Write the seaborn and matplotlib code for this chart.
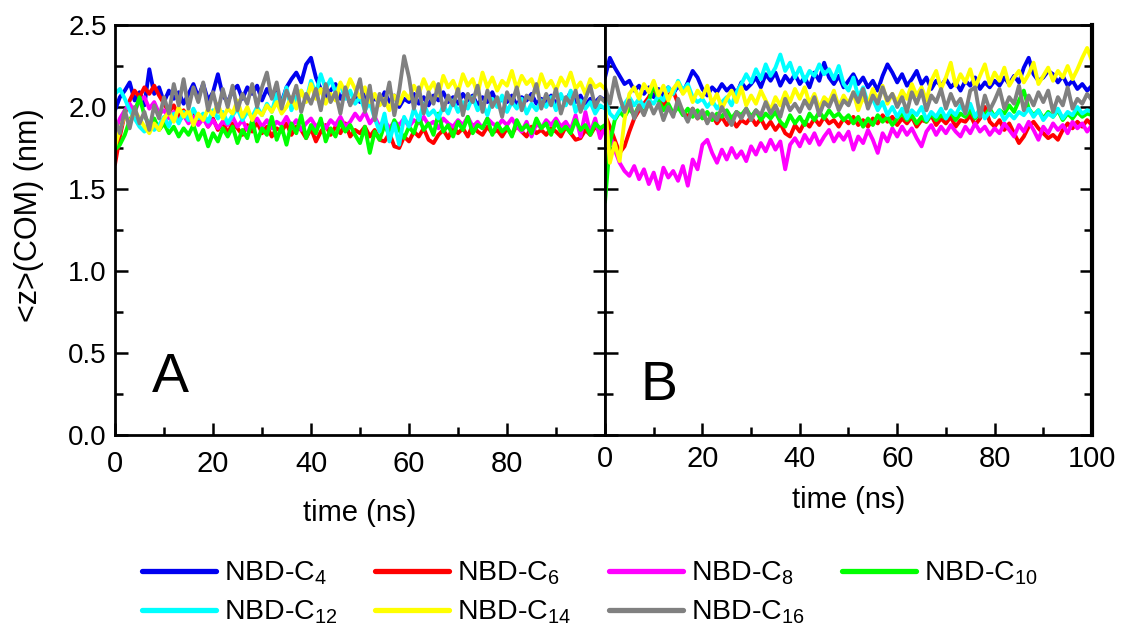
import numpy as np
import pandas as pd
import matplotlib
matplotlib.use("Agg")
import matplotlib.pyplot as plt
from matplotlib.lines import Line2D
from matplotlib.ticker import MultipleLocator, FixedLocator
import seaborn as sns

# ---------------- data ----------------
time_ns = list(range(0, 101))

series_names = ["NBD-C4", "NBD-C6", "NBD-C8", "NBD-C10", "NBD-C12", "NBD-C14", "NBD-C16"]
legend_labels = ["NBD-C$_{4}$", "NBD-C$_{6}$", "NBD-C$_{8}$", "NBD-C$_{10}$",
                 "NBD-C$_{12}$", "NBD-C$_{14}$", "NBD-C$_{16}$"]
series_colors = ["#0000f0", "#ff0000", "#ff00ff", "#00ff00", "#00ffff", "#ffff00", "#808080"]

# Panel A
A_C4 = [1.98, 2.06, 2.10, 2.15, 2.04, 2.09, 2.01, 2.23, 2.08, 2.12,
        2.03, 2.10, 2.05, 2.09, 2.02, 2.08, 2.14, 2.06, 2.14, 2.04,
        2.09, 2.20, 2.07, 2.03, 2.10, 2.13, 2.05, 2.12, 2.08, 2.13,
        2.04, 2.11, 2.06, 2.09, 2.03, 2.12, 2.17, 2.21, 2.15, 2.26,
        2.30, 2.18, 2.11, 2.06, 2.10, 2.14, 2.05, 2.09, 2.02, 2.07,
        2.03, 2.08, 2.01, 2.06, 2.02, 2.09, 2.03, 2.07, 2.00, 2.05,
        2.03, 2.08, 2.02, 2.06, 2.01, 2.07, 2.04, 2.09, 2.03, 2.06,
        2.02, 2.08, 2.04, 2.07, 2.01, 2.06, 2.03, 2.09, 2.02, 2.05,
        2.03, 2.07, 2.01, 2.06, 2.04, 2.08, 2.02, 2.05, 2.03, 2.07,
        2.02, 2.06, 2.04, 2.09, 2.03, 2.07, 2.01, 2.05, 2.03, 2.06,
        2.04]
A_C6 = [1.65, 1.82, 1.96, 2.04, 2.10, 2.06, 2.12, 2.08, 2.13, 2.07,
        2.02, 1.97, 2.01, 1.94, 1.98, 1.92, 1.96, 1.90, 1.94, 1.88,
        1.93, 1.86, 1.91, 1.84, 1.90, 1.87, 1.83, 1.89, 1.85, 1.91,
        1.84, 1.88, 1.82, 1.87, 1.85, 1.90, 1.83, 1.88, 1.86, 1.81,
        1.87, 1.79, 1.85, 1.89, 1.83, 1.88, 1.84, 1.90, 1.82, 1.86,
        1.84, 1.88, 1.82, 1.86, 1.80, 1.79, 1.84, 1.76, 1.75, 1.82,
        1.79, 1.85, 1.82, 1.87, 1.80, 1.78, 1.83, 1.86, 1.81, 1.88,
        1.84, 1.87, 1.82, 1.89, 1.85, 1.83, 1.88, 1.84, 1.86, 1.82,
        1.87, 1.83, 1.89, 1.85, 1.82, 1.88, 1.84, 1.86, 1.83, 1.87,
        1.85, 1.82, 1.88, 1.84, 1.80, 1.81, 1.86, 1.83, 1.88, 1.85,
        1.87]
A_C8 = [1.85, 1.93, 1.98, 2.02, 1.97, 2.04, 2.06, 1.99, 2.03, 1.96,
        1.98, 1.93, 1.97, 1.91, 1.95, 1.90, 1.94, 1.89, 1.93, 1.88,
        1.92, 1.87, 1.91, 1.89, 1.94, 1.88, 1.92, 1.86, 1.90, 1.93,
        1.88, 1.92, 1.87, 1.91, 1.89, 1.94, 1.88, 1.92, 1.86, 1.90,
        1.93, 1.88, 1.91, 1.87, 1.92, 1.89, 1.94, 1.88, 1.91, 1.96,
        1.92, 1.97, 1.90, 1.94, 1.88, 1.92, 1.87, 1.91, 1.89, 1.93,
        1.88, 1.92, 1.90, 1.94, 1.89, 1.91, 1.87, 1.93, 1.90, 1.88,
        1.92, 1.89, 1.94, 1.88, 1.91, 1.87, 1.93, 1.90, 1.88, 1.92,
        1.89, 1.93, 1.88, 1.85, 1.91, 1.82, 1.90, 1.87, 1.92, 1.89,
        1.93, 1.88, 1.91, 1.86, 1.95, 1.82, 1.97, 1.84, 1.93, 1.81,
        1.88]
A_C10 = [1.74, 1.77, 1.83, 1.92, 1.97, 2.06, 1.95, 1.89, 1.93, 1.86,
         1.90, 1.84, 1.88, 1.82, 1.87, 1.83, 1.89, 1.80, 1.86, 1.76,
         1.84, 1.79, 1.87, 1.82, 1.88, 1.78, 1.86, 1.81, 1.92, 1.79,
         1.87, 1.83, 1.94, 1.80, 1.88, 1.77, 1.90, 1.84, 1.95, 1.81,
         1.89, 1.84, 1.93, 1.79, 1.87, 1.82, 1.91, 1.85, 1.89, 1.83,
         1.78, 1.88, 1.72, 1.85, 1.80, 1.89, 1.83, 1.92, 1.86, 1.81,
         1.88, 1.84, 1.94, 1.86, 1.90, 1.83, 1.96, 1.85, 1.89, 1.82,
         1.91, 1.86, 1.94, 1.84, 1.89, 1.87, 1.93, 1.83, 1.90, 1.85,
         1.88, 1.82, 1.92, 1.86, 1.89, 1.84, 1.93, 1.87, 1.90, 1.83,
         1.91, 1.85, 1.88, 1.84, 1.92, 1.86, 1.89, 1.83, 1.90, 1.87,
         1.89]
A_C12 = [2.08, 2.11, 2.05, 1.98, 1.93, 1.88, 1.85, 1.91, 1.86, 1.89,
         1.94, 1.88, 1.96, 1.90, 1.97, 1.92, 1.99, 1.93, 1.96, 1.91,
         1.98, 1.93, 1.97, 1.90, 1.95, 1.99, 1.92, 1.97, 1.94, 2.00,
         1.95, 2.02, 1.97, 2.08, 2.01, 2.12, 1.98, 2.06, 2.10, 2.04,
         2.16, 2.08, 2.20, 2.11, 2.17, 2.09, 2.14, 2.05, 2.10, 2.02,
         2.06, 1.98, 2.03, 1.93, 1.85, 1.96, 1.79, 1.90, 1.77, 1.94,
         1.88, 1.99, 1.92, 2.02, 1.95, 1.98, 1.93, 2.01, 1.96, 2.04,
         1.97, 2.03, 1.99, 2.06, 1.98, 2.02, 1.95, 2.05, 2.00, 2.07,
         1.97, 2.03, 1.99, 2.05, 1.96, 2.02, 1.98, 2.04, 2.00, 2.06,
         1.98, 2.08, 2.01, 2.10, 1.97, 2.04, 1.99, 2.03, 1.96, 2.01,
         1.99]
A_C14 = [1.76, 1.86, 1.95, 1.90, 1.98, 1.93, 1.88, 1.84, 1.90, 1.86,
         1.93, 1.97, 1.91, 2.00, 1.94, 1.98, 1.89, 1.96, 1.92, 1.99,
         1.95, 2.02, 1.93, 1.99, 1.96, 2.04, 1.94, 2.00, 1.92, 1.98,
         1.95, 2.01, 1.97, 2.03, 1.96, 2.00, 2.06, 1.99, 2.10, 2.03,
         2.14, 2.05, 2.11, 2.02, 2.08, 2.04, 2.15, 2.09, 2.17, 2.11,
         2.06, 2.12, 2.03, 2.08, 2.01, 2.05, 1.98, 2.07, 2.02, 2.09,
         2.05, 2.13, 2.08, 2.17, 2.10, 2.15, 2.07, 2.19, 2.12, 2.16,
         2.09, 2.20, 2.13, 2.17, 2.08, 2.21, 2.12, 2.18, 2.10, 2.16,
         2.13, 2.22, 2.11, 2.19, 2.14, 2.17, 2.09, 2.20, 2.12, 2.16,
         2.10, 2.18, 2.13, 2.21, 2.11, 2.15, 2.08, 2.17, 2.12, 2.14,
         2.11]
A_C16 = [1.92, 1.84, 1.98, 1.87, 2.00, 1.90, 1.97, 1.86, 2.01, 1.93,
         2.06, 1.96, 2.14, 2.01, 2.17, 1.99, 2.12, 2.03, 2.15, 1.98,
         2.09, 1.97, 2.11, 2.00, 2.13, 1.98, 2.08, 2.02, 2.14, 2.00,
         2.12, 2.21, 2.05, 2.15, 1.99, 2.10, 2.03, 2.13, 1.97, 2.08,
         2.02, 2.11, 1.98, 2.14, 2.03, 2.09, 1.96, 2.12, 2.01, 2.07,
         2.17, 1.97, 2.13, 1.92, 2.08, 2.01, 2.15, 1.95, 2.10, 2.31,
         2.18, 1.99, 2.12, 1.96, 2.09, 2.02, 2.14, 1.98, 2.07, 2.01,
         2.11, 1.95, 2.08, 2.03, 2.13, 1.97, 2.10, 2.00, 2.06, 1.94,
         2.09, 2.02, 2.12, 1.98, 2.07, 2.04, 2.14, 1.99, 2.08, 2.01,
         2.11, 1.96, 2.06, 2.02, 2.10, 1.97, 2.05, 2.13, 2.00, 2.06,
         2.03]

# Panel B
B_C4 = [2.18, 2.30, 2.24, 2.19, 2.14, 2.16, 2.10, 2.13, 2.08, 2.12,
        2.06, 2.11, 2.07, 2.12, 2.08, 2.13, 2.09, 2.15, 2.22, 2.18,
        2.11, 2.07, 2.12, 2.09, 2.14, 2.10, 2.13, 2.08, 2.15, 2.11,
        2.14, 2.18, 2.12, 2.20, 2.16, 2.21, 2.13, 2.19, 2.15, 2.20,
        2.14, 2.18, 2.12, 2.21, 2.16, 2.27, 2.18, 2.14, 2.19, 2.12,
        2.16, 2.20, 2.14, 2.18, 2.12, 2.16, 2.10, 2.19, 2.26, 2.21,
        2.15, 2.20, 2.13, 2.17, 2.22, 2.14, 2.18, 2.11, 2.16, 2.13,
        2.17, 2.12, 2.15, 2.10, 2.16, 2.13, 2.18, 2.11, 2.15, 2.12,
        2.16, 2.13, 2.18, 2.14, 2.19, 2.15, 2.24, 2.30, 2.20, 2.16,
        2.18, 2.22, 2.20, 2.15, 2.19, 2.13, 2.16, 2.11, 2.14, 2.10,
        2.13]
B_C6 = [1.95, 1.88, 1.80, 1.72, 1.76, 1.85, 1.93, 1.98, 2.02, 2.06,
        2.12, 2.05, 2.00, 2.07, 2.10, 2.02, 1.97, 1.94, 1.99, 1.93,
        1.96, 1.91, 1.95, 1.90, 1.94, 1.89, 1.93, 1.88, 1.92, 1.90,
        1.94, 1.89, 1.93, 1.87, 1.91, 1.86, 1.90, 1.84, 1.82, 1.89,
        1.85, 1.91, 1.88, 1.93, 1.89, 1.94, 1.90, 1.92, 1.88, 1.93,
        1.90, 1.94, 1.89, 1.92, 1.88, 1.93, 1.90, 1.95, 1.91, 1.94,
        1.89, 1.93, 1.90, 1.94, 1.88, 1.92, 1.91, 1.95, 1.89, 1.93,
        1.90, 1.94, 1.88, 1.92, 1.91, 1.95, 1.89, 1.93, 2.00, 1.91,
        1.88, 1.92, 1.86, 1.90, 1.84, 1.78, 1.82, 1.88, 1.91, 1.87,
        1.84, 1.81, 1.83, 1.80, 1.86, 1.90, 1.87, 1.91, 1.88, 1.92,
        1.89]
B_C8 = [1.88, 1.83, 1.74, 1.66, 1.61, 1.58, 1.64, 1.56, 1.62, 1.53,
        1.60, 1.50, 1.63, 1.57, 1.61, 1.55, 1.64, 1.52, 1.68, 1.62,
        1.77, 1.80, 1.72, 1.66, 1.74, 1.68, 1.75, 1.69, 1.73, 1.67,
        1.76, 1.71, 1.78, 1.73, 1.80, 1.74, 1.79, 1.62, 1.77, 1.81,
        1.76, 1.83, 1.78, 1.84, 1.77, 1.82, 1.86, 1.79, 1.84, 1.80,
        1.85, 1.74, 1.82, 1.78, 1.86, 1.80, 1.72, 1.84, 1.79, 1.87,
        1.82, 1.88, 1.83, 1.87, 1.81, 1.76, 1.85, 1.89, 1.83, 1.88,
        1.84, 1.89, 1.85, 1.82, 1.88, 1.84, 1.90, 1.85, 1.88, 1.83,
        1.87, 1.84, 1.90, 1.86, 1.82, 1.89, 1.85, 1.91, 1.86, 1.80,
        1.88, 1.84, 1.90, 1.86, 1.89, 1.84, 1.91, 1.87, 1.90, 1.85,
        1.89]
B_C10 = [1.42, 1.78, 1.92, 1.97, 1.94, 1.99, 1.95, 2.01, 1.96, 2.03,
         2.15, 2.04, 1.98, 2.02, 1.96, 2.00, 1.95, 1.99, 1.94, 1.98,
         1.93, 1.97, 1.92, 1.96, 1.94, 1.98, 1.93, 1.97, 1.95, 1.99,
         1.94, 1.98, 1.92, 1.96, 1.93, 1.97, 1.91, 1.88, 1.95, 1.90,
         1.94, 1.89, 1.96, 1.92, 1.97, 1.93, 1.98, 1.94, 1.96, 1.92,
         1.95, 1.90, 1.94, 1.88, 1.93, 1.89, 1.95, 1.91, 1.94, 1.89,
         1.93, 1.96, 1.92, 1.95, 1.90, 1.94, 1.91, 1.96, 1.92, 1.95,
         1.93, 1.97, 1.92, 1.96, 1.94, 1.98, 1.93, 1.97, 1.95, 1.99,
         1.94, 1.98, 1.96, 2.01, 1.97, 2.04, 2.10, 1.99, 1.95, 1.98,
         1.93, 1.97, 1.94, 1.98, 1.92, 1.96, 1.93, 1.97, 1.94, 1.96,
         1.95]
B_C12 = [2.05, 1.96, 1.93, 1.98, 2.02, 2.06, 2.01, 2.05, 2.00, 2.04,
         2.02, 2.07, 2.04, 2.12, 2.08, 2.16, 2.10, 2.14, 2.06, 2.03,
         2.05, 2.00, 2.04, 1.99, 2.03, 2.06, 2.01, 2.09, 2.14, 2.20,
         2.15, 2.23, 2.17, 2.26, 2.19, 2.24, 2.32, 2.22, 2.27, 2.18,
         2.24, 2.16, 2.22, 2.19, 2.26, 2.20, 2.23, 2.17, 2.25, 2.14,
         2.10, 2.18, 2.06, 2.12, 2.02, 2.05, 1.98, 2.03, 1.95, 2.00,
         1.94, 1.99, 1.93, 1.98, 1.95, 2.00, 1.92, 1.97, 1.94, 1.99,
         1.93, 1.98, 1.95, 2.01, 1.96, 2.02, 1.94, 1.99, 1.93, 1.97,
         1.94, 1.98, 1.92, 1.96, 1.93, 1.97, 1.95, 1.99, 1.94, 1.98,
         1.92, 1.96, 1.94, 1.99, 1.93, 1.97, 1.95, 2.00, 1.96, 1.98,
         1.97]
B_C14 = [2.02, 1.66, 1.78, 1.67, 1.92, 2.08, 2.12, 2.05, 2.14, 2.09,
         2.16, 2.07, 2.13, 2.04, 2.11, 2.15, 2.08, 2.12, 2.03, 2.10,
         2.06, 2.13, 2.02, 2.08, 1.99, 2.05, 2.10, 2.03, 2.12, 2.01,
         2.07, 2.02, 2.10, 2.04, 1.98, 2.06, 2.01, 2.09, 2.03, 2.11,
         2.05, 2.12, 2.02, 2.08, 1.99, 2.06, 2.03, 2.10, 2.00, 2.07,
         2.02, 2.09, 1.98, 2.06, 2.01, 2.11, 2.04, 2.13, 2.02, 2.08,
         2.03, 2.10, 2.05, 2.14, 2.07, 2.12, 2.04, 2.16, 2.22, 2.11,
         2.18, 2.27, 2.13, 2.20, 2.15, 2.23, 2.12, 2.19, 2.26, 2.14,
         2.21, 2.16, 2.24, 2.13, 2.18, 2.22, 2.15, 2.20, 2.27, 2.14,
         2.19, 2.24, 2.16, 2.22, 2.18, 2.25, 2.17, 2.23, 2.30, 2.36,
         2.28]
B_C16 = [2.12, 2.02, 2.18, 2.06, 1.97, 2.04, 1.93, 2.01, 1.95, 2.03,
         1.96, 2.02, 1.92, 2.00, 1.94, 2.05, 1.97, 1.91, 1.99, 1.93,
         1.98, 1.90, 1.96, 1.92, 2.00, 1.94, 1.89, 1.97, 1.93, 1.99,
         1.92, 1.98, 1.95, 2.03, 1.96, 2.01, 1.94, 2.05, 1.98, 2.02,
         1.97, 2.04, 1.99, 2.06, 1.95, 2.03, 2.00, 2.07, 1.98, 2.04,
         2.01, 2.09, 2.03, 2.11, 1.99, 2.07, 2.02, 2.12, 2.04, 2.08,
         2.00, 2.06, 1.97, 2.09, 2.02, 2.10, 1.98, 2.07, 2.03, 2.11,
         1.99, 2.08, 2.01, 2.05, 1.96, 2.10, 2.12, 1.94, 2.07, 1.98,
         2.04, 2.11, 1.99, 2.06, 2.02, 2.13, 1.98, 2.07, 2.01, 2.09,
         2.03, 2.10, 1.97, 2.06, 2.01, 2.12, 1.99, 2.05, 2.02, 2.08,
         2.04]

panel_A = [A_C4, A_C6, A_C8, A_C10, A_C12, A_C14, A_C16]
panel_B = [B_C4, B_C6, B_C8, B_C10, B_C12, B_C14, B_C16]

x_ticks_A = [0, 20, 40, 60, 80]
x_ticks_B = [0, 20, 40, 60, 80, 100]
y_ticks = [0.0, 0.5, 1.0, 1.5, 2.0, 2.5]


def long_frame(panel):
    frames = []
    for name, vals in zip(series_names, panel):
        frames.append(pd.DataFrame({"time": time_ns, "z": vals, "series": name}))
    return pd.concat(frames, ignore_index=True)


dfA = long_frame(panel_A)
dfB = long_frame(panel_B)

# ---------------- style ----------------
sns.set_style("ticks")
plt.rcParams["font.family"] = ["Liberation Sans", "DejaVu Sans"]
plt.rcParams["mathtext.default"] = "regular"
plt.rcParams["axes.linewidth"] = 2.0
for key in ("text.color", "axes.labelcolor", "xtick.color", "ytick.color",
            "xtick.labelcolor", "ytick.labelcolor", "axes.edgecolor"):
    plt.rcParams[key] = "black"

fig = plt.figure(figsize=(11.22, 6.41), dpi=100)
W, H = 1122, 641
bottom = 1 - 435 / H
height = 410 / H
axA = fig.add_axes([115 / W, bottom, 490 / W, height])
axB = fig.add_axes([605 / W, bottom, 487 / W, height])

palette = dict(zip(series_names, series_colors))

for ax, df in ((axA, dfA), (axB, dfB)):
    sns.lineplot(data=df, x="time", y="z", hue="series", hue_order=series_names,
                 palette=palette, ax=ax, linewidth=2.8, legend=False,
                 estimator=None, errorbar=None)
    ax.set_xlim(0, 100)
    ax.set_ylim(0, 2.5)
    ax.yaxis.set_major_locator(FixedLocator(y_ticks))
    ax.yaxis.set_minor_locator(MultipleLocator(0.25))
    ax.xaxis.set_minor_locator(MultipleLocator(10))
    ax.tick_params(which="both", direction="in", width=1.8, top=False,
                   left=True, right=True, bottom=True, colors="black",
                   labelcolor="black")
    ax.tick_params(which="major", length=9)
    ax.tick_params(which="minor", length=5.5)
    for sp in ax.spines.values():
        sp.set_linewidth(2.0)
        sp.set_color("black")

axA.set_xticks(x_ticks_A)
axA.set_xticklabels([str(v) for v in x_ticks_A])
axB.set_xticks(x_ticks_B)
axB.set_xticklabels([str(v) for v in x_ticks_B])

axA.set_yticklabels([f"{v:.1f}" for v in y_ticks])
axA.tick_params(axis="y", labelsize=20, pad=6)
axA.tick_params(axis="x", labelsize=21, pad=11)
axB.tick_params(axis="y", labelleft=False)
axB.tick_params(axis="x", labelsize=21, pad=7)
axB.spines["right"].set_linewidth(3.0)
axB.set_ylabel("")

axA.set_ylabel("<z>(COM) (nm)", fontsize=22, color="black")
axA.yaxis.set_label_coords(-0.145, 0.537)
axA.set_xlabel("time (ns)", fontsize=21, color="black")
axA.xaxis.set_label_coords(0.5, -0.155)
axB.set_xlabel("time (ns)", fontsize=21, color="black")
axB.xaxis.set_label_coords(0.5, -0.125)

axA.text(11.4, 0.35, "A", fontsize=40, ha="center", va="center", color="black")
axB.text(11.1, 0.30, "B", fontsize=40, ha="center", va="center", color="black")

# legend: matplotlib fills columns first, so reorder for row-wise reading
order = [0, 4, 1, 5, 2, 6, 3]
handles = [Line2D([], [], color=series_colors[i], linewidth=3.8) for i in order]
labels = [legend_labels[i] for i in order]
leg = fig.legend(handles, labels, ncol=4, loc="center", bbox_to_anchor=(590 / W, 1 - 593 / H),
                 frameon=False, fontsize=20.5, handlelength=2.6, handletextpad=0.3,
                 columnspacing=1.3, labelspacing=0.4, borderpad=0.0)
for t in leg.get_texts():
    t.set_color("black")

fig.savefig("out.png", dpi=100)
